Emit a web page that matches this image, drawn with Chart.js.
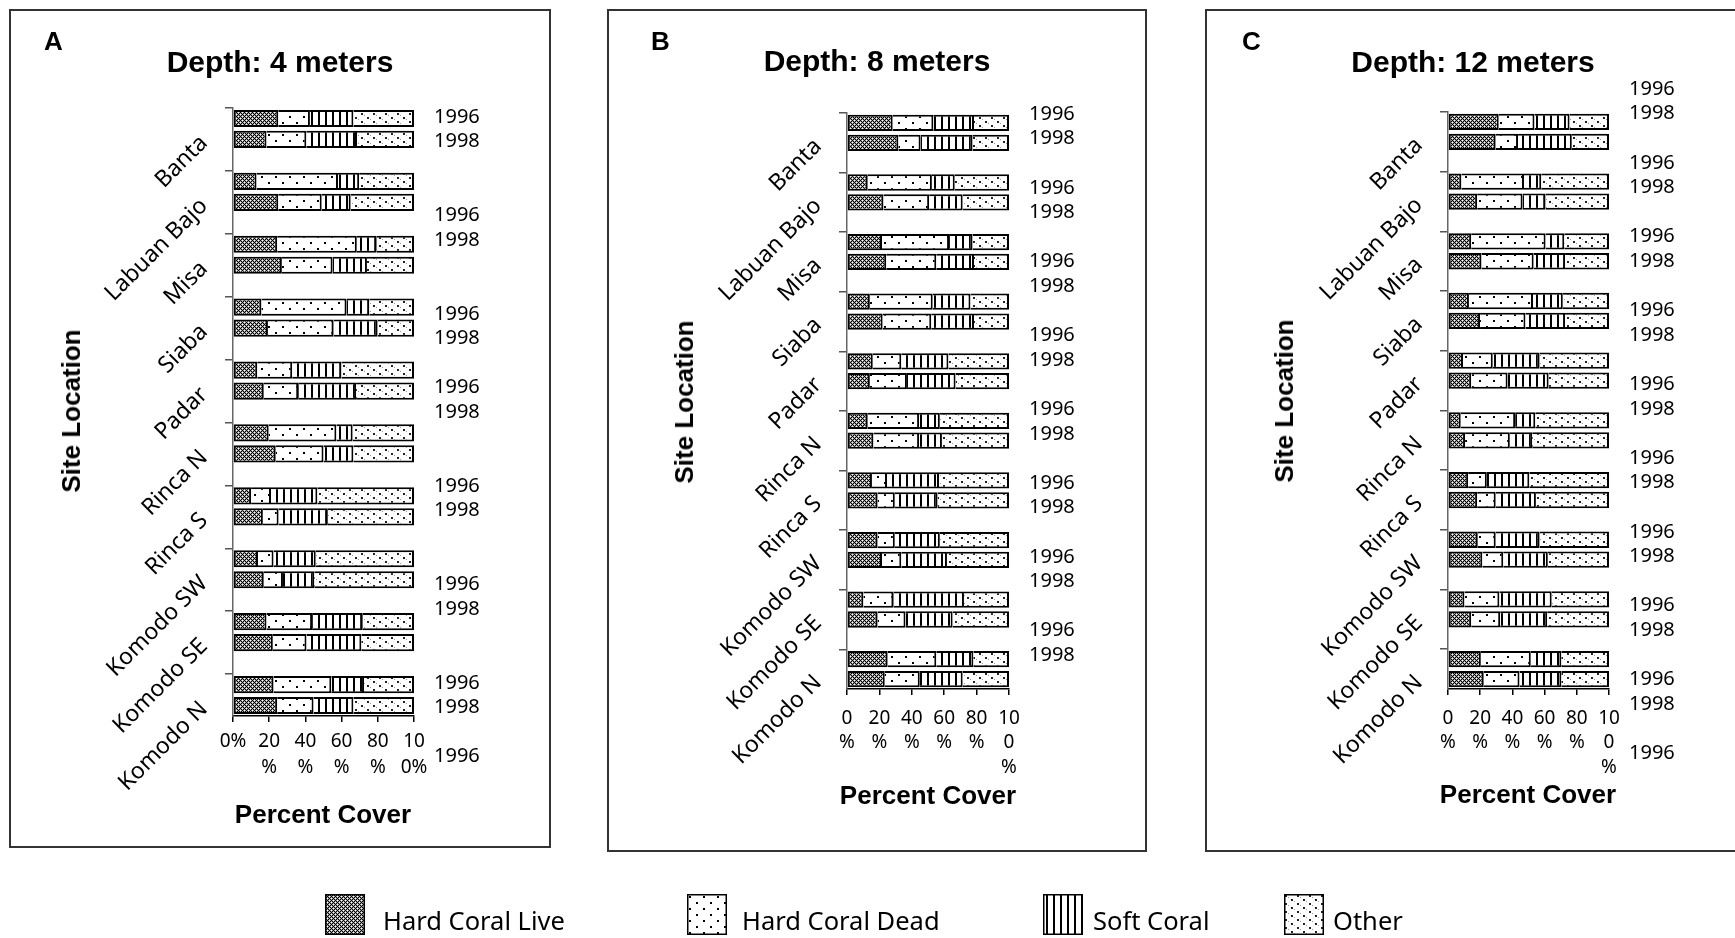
<!DOCTYPE html>
<html><head><meta charset="utf-8">
<script src="https://cdn.jsdelivr.net/npm/chart.js@4/dist/chart.umd.min.js"></script>
<style>
html,body{margin:0;padding:0;background:#fff;width:1735px;height:938px;overflow:hidden;}
.panel{position:absolute;border:2px solid #333;box-sizing:border-box;}
canvas.full{position:absolute;left:0;top:0;}
.c{position:absolute;transform:translate(-50%,-50%);white-space:nowrap;line-height:1;color:#000;}
.l{position:absolute;transform:translateY(-50%);white-space:nowrap;line-height:1;color:#000;}
.bold{font-family:"Liberation Sans",Arial,sans-serif;font-weight:bold;}
.title{font-size:30px;}
.axt{font-size:26px;}
.letter{font-size:26px;}
.vert{transform:translate(-50%,-50%) rotate(-90deg);}
.leg{font-family:"Noto Sans",sans-serif;font-size:25.5px;}
canvas.lb{position:absolute;}
</style></head>
<body>
<div class="panel" style="left:9px;top:9px;width:542px;height:839px;"></div>
<div class="panel" style="left:607px;top:9px;width:540px;height:843px;"></div>
<div class="panel" style="left:1205px;top:9px;width:540px;height:843px;"></div>

<canvas id="cA" class="full" width="1735" height="938"></canvas>
<canvas id="cB" class="full" width="1735" height="938"></canvas>
<canvas id="cC" class="full" width="1735" height="938"></canvas>

<div class="l bold letter" style="left:44px;top:41px;">A</div>
<div class="l bold letter" style="left:651px;top:41px;">B</div>
<div class="l bold letter" style="left:1242px;top:41px;">C</div>

<div class="c bold title" style="left:280px;top:62px;">Depth: 4 meters</div>
<div class="c bold title" style="left:877px;top:61px;">Depth: 8 meters</div>
<div class="c bold title" style="left:1473px;top:62px;">Depth: 12 meters</div>

<div class="c bold axt vert" style="left:71px;top:411px;">Site Location</div>
<div class="c bold axt vert" style="left:684px;top:402px;">Site Location</div>
<div class="c bold axt vert" style="left:1284px;top:401px;">Site Location</div>

<div class="c bold axt" style="left:323px;top:814px;">Percent Cover</div>
<div class="c bold axt" style="left:928px;top:795px;">Percent Cover</div>
<div class="c bold axt" style="left:1528px;top:794px;">Percent Cover</div>

<canvas id="lg0" class="lb" width="40" height="41" style="left:325px;top:894px;"></canvas>
<canvas id="lg1" class="lb" width="40" height="41" style="left:687px;top:894px;"></canvas>
<canvas id="lg2" class="lb" width="40" height="41" style="left:1043px;top:894px;"></canvas>
<canvas id="lg3" class="lb" width="40" height="41" style="left:1284px;top:894px;"></canvas>
<div class="l leg" style="left:383px;top:921px;">Hard Coral Live</div>
<div class="l leg" style="left:742px;top:921px;">Hard Coral Dead</div>
<div class="l leg" style="left:1093px;top:921px;">Soft Coral</div>
<div class="l leg" style="left:1333px;top:921px;">Other</div>

<script>
// ---------- DATA ----------
const sites = ['Banta','Labuan Bajo','Misa','Siaba','Padar','Rinca N','Rinca S','Komodo SW','Komodo SE','Komodo N'];
const categories = ['Hard Coral Live','Hard Coral Dead','Soft Coral','Other'];
const years = ['1996','1998'];
// values in order: site1-1996, site1-1998, site2-1996, ...
// Depth 4 m
const liveA  = [25,18.5, 13,25, 24.4,27, 15.7,19.3, 13.4,17, 19.7,23.6, 10,16.5, 13.8,17, 18.5,22, 22.4,24.4];
const deadA  = [17.5,22, 45,24, 44,28, 47,36.2, 19.3,19, 37.4,26.4, 11,8.7, 8.6,10.6, 25.2,18.6, 31.9,20.1];
const softA  = [24,28, 11.7,16, 11,19, 12.6,24.4, 27.2,32, 9,16.5, 25.6,27.2, 23.3,17.3, 28,30.3, 18.1,22];
const otherA = [33.5,31.5, 30.3,35, 20.6,26, 24.7,20.1, 40.1,32, 33.9,33.5, 53.4,47.6, 54.3,55.1, 28.3,29.1, 27.6,33.5];
// Depth 8 m
const liveB  = [28.2,31.7, 12.8,22.5, 21.6,24.2, 14.1,22, 15.9,14.1, 12.8,16.3, 15.4,18.9, 18.9,21.6, 10.1,18.9, 25.1,23.3];
const deadB  = [25.1,13.7, 39.6,28.2, 41.4,30.9, 38.8,30, 17.6,22.9, 31.7,28.2, 9.3,10.6, 10.6,11.9, 18.5,17.2, 30,21.6];
const softB  = [25.1,32.1, 14.1,20.7, 14.5,23.3, 23.3,26.4, 29.1,30, 12.8,14.1, 32.1,26.4, 27.8,28.2, 43.6,29.1, 22.9,26.5];
const otherB = [21.6,22.5, 33.5,28.6, 22.5,21.6, 23.8,21.6, 37.4,33, 42.7,41.4, 43.2,44.1, 42.7,38.3, 27.8,34.8, 22,28.6];
// Depth 12 m
const liveC  = [31.5,29.6, 8.3,18.1, 14.4,20.8, 13,19.9, 9.3,14.4, 7.9,10.6, 12.5,18.1, 18.5,21.3, 10.2,14.4, 20.4,22.2];
const deadC  = [22.2,13.9, 38.9,28.2, 46.2,32.4, 39.8,28.2, 18.5,22.6, 33.8,27.8, 11.6,11.5, 11.1,13, 21.7,18, 31,22.2];
const softC  = [21.8,33.4, 10.7,14.3, 11.6,19.5, 18.5,24.6, 29.1,25.5, 12.5,13.9, 26.4,25, 27.3,27.7, 32.5,29.2, 19,26];
const otherC = [24.5,23.1, 42.1,39.4, 27.8,27.3, 28.7,27.3, 43.1,37.5, 45.8,47.7, 49.5,45.4, 43.1,38, 35.6,38.4, 29.6,29.6];
// tick labels
const xTicksA = [['0%'],['20','%'],['40','%'],['60','%'],['80','%'],['10','0%']];
const xTicksB = [['0','%'],['20','%'],['40','%'],['60','%'],['80','%'],['10','0','%']];
const xTicksC = [['0','%'],['20','%'],['40','%'],['60','%'],['80','%'],['10','0','%']];
// stray year labels on the right of each panel
const yearLabelsA = ['1996','1998','','','1996','1998','','','1996','1998','','1996','1998','','','1996','1998','','','1996','1998','','','1996','1998','','1996'];
const yearLabelsB = ['1996','1998','','1996','1998','','1996','1998','','1996','1998','','1996','1998','','1996','1998','','1996','1998','','1996','1998'];
const yearLabelsC = ['1996','1998','','1996','1998','','1996','1998','','1996','1998','','1996','1998','','1996','1998','','1996','1998','','1996','1998','','1996','1998','','1996'];

// ---------- helpers ----------
const W = 1735, H = 938;
function rowLabels() {
  const out = [];
  sites.forEach((s, i) => { out.push(s + ' ' + years[0]); out.push(s + ' ' + years[1]); if (i < sites.length - 1) out.push(''); });
  return out;
}
function buildRows(values) {
  const out = [];
  for (let s = 0; s < sites.length; s++) {
    out.push(values[2 * s], values[2 * s + 1]);
    if (s < sites.length - 1) out.push(null);
  }
  return out;
}
function makePatterns(ctx) {
  function tile(w, h, draw) {
    const c = document.createElement('canvas'); c.width = w; c.height = h;
    const g = c.getContext('2d'); g.fillStyle = '#fff'; g.fillRect(0, 0, w, h); draw(g);
    return ctx.createPattern(c, 'repeat');
  }
  const live = tile(4, 4, g => {
    const map = ['BgWg', 'gBgB', 'WgBg', 'gBgB'];
    for (let y = 0; y < 4; y++) for (let x = 0; x < 4; x++) {
      const ch = map[y][x];
      g.fillStyle = ch === 'B' ? '#000' : ch === 'g' ? '#a0a0a0' : '#fff';
      g.fillRect(x, y, 1, 1);
    }
  });
  const dead = tile(14, 12, g => { g.fillStyle = '#000'; g.fillRect(2, 2, 2, 2); g.fillRect(9, 8, 2, 2); });
  const soft = tile(7, 4, g => { g.fillStyle = '#000'; g.fillRect(3, 0, 2, 4); });
  const other = tile(12, 8, g => {
    g.fillStyle = '#222'; g.fillRect(1, 1, 2, 2); g.fillRect(7, 5, 2, 2);
    g.fillStyle = '#999'; g.fillRect(4, 3, 1, 1); g.fillRect(10, 7, 1, 1);
  });
  return [live, dead, soft, other];
}

const yearPlugin = {
  id: 'yearLabels',
  afterDraw(chart, args, opts) {
    const c = chart.ctx, a = chart.chartArea;
    c.save();
    c.font = '20px "Noto Sans"'; c.fillStyle = '#000'; c.textBaseline = 'middle'; c.textAlign = 'left';
    opts.labels.forEach((t, i) => { if (t) c.fillText(t, a.right + opts.dx, a.top + opts.dy + i * opts.step); });
    c.restore();
  }
};

function makeChart(id, series, g, xTicks, xPad, xLine, years, yDy) {
  const canvas = document.getElementById(id);
  const ctx = canvas.getContext('2d');
  const pats = makePatterns(ctx);
  const yW = 200, xH = 100;
  const labels = rowLabels();
  return new Chart(ctx, {
    type: 'bar',
    data: {
      labels: labels,
      datasets: categories.map((name, k) => ({
        label: name,
        data: buildRows(series[k]),
        backgroundColor: pats[k],
        borderColor: '#000',
        borderWidth: 2,
        borderSkipped: k === 0 ? false : 'start',
        barPercentage: 0.82,
        categoryPercentage: 1
      }))
    },
    options: {
      indexAxis: 'y', responsive: false, maintainAspectRatio: false, animation: false, events: [],
      layout: { padding: { left: g.left - yW, top: g.top, right: W - g.right, bottom: H - g.bottom - xH } },
      plugins: {
        legend: { display: false }, tooltip: { enabled: false }, title: { display: false },
        yearLabels: { labels: years, dx: 20, dy: yDy, step: 24.6 }
      },
      scales: {
        x: {
          type: 'linear', min: 0, max: 100, stacked: true, position: 'bottom',
          afterFit: s => { s.height = xH; },
          ticks: {
            stepSize: 20, autoSkip: false, maxRotation: 0, minRotation: 0, padding: xPad, color: '#000',
            font: { family: 'Noto Sans', size: 19, lineHeight: xLine },
            callback: (v, i) => xTicks[i]
          },
          grid: { drawOnChartArea: false, drawTicks: true, tickLength: 6, color: '#000', lineWidth: 1.5 },
          border: { display: true, color: '#000', width: 1.5 }
        },
        y: {
          type: 'category', stacked: true, position: 'left', offset: true,
          afterFit: s => { s.width = yW; },
          ticks: {
            autoSkip: false, minRotation: 45, maxRotation: 45, padding: 21, color: '#000',
            font: { family: 'Noto Sans', size: 23 },
            callback: (v, i) => (i % 3 === 1 ? sites[(i - 1) / 3] : '')
          },
          grid: {
            offset: true, drawOnChartArea: false, drawTicks: true, tickLength: 8, lineWidth: 1.5,
            color: c => (c.index !== undefined && c.index % 3 === 0) ? '#555' : 'rgba(0,0,0,0)',
            tickColor: c => (c.index !== undefined && c.index % 3 === 0) ? '#555' : 'rgba(0,0,0,0)'
          },
          border: { display: true, color: '#666', width: 1.5 }
        }
      }
    },
    plugins: [yearPlugin]
  });
}

makeChart('cA', [liveA, deadA, softA, otherA], { left: 233, top: 108, right: 414, bottom: 716 }, xTicksA, 7, 1.37, yearLabelsA, 9);
makeChart('cB', [liveB, deadB, softB, otherB], { left: 847, top: 113, right: 1009, bottom: 689 }, xTicksB, 11, 1.29, yearLabelsB, 1);
makeChart('cC', [liveC, deadC, softC, otherC], { left: 1448, top: 112, right: 1609, bottom: 689 }, xTicksC, 11, 1.29, yearLabelsC, -23);

// legend swatches
for (let k = 0; k < 4; k++) {
  const cv = document.getElementById('lg' + k);
  const g = cv.getContext('2d');
  const p = makePatterns(g)[k];
  g.fillStyle = p; g.fillRect(0, 0, cv.width, cv.height);
  g.strokeStyle = '#000'; g.lineWidth = 1.5; g.strokeRect(0.75, 0.75, cv.width - 1.5, cv.height - 1.5);
}
</script>
</body></html>
